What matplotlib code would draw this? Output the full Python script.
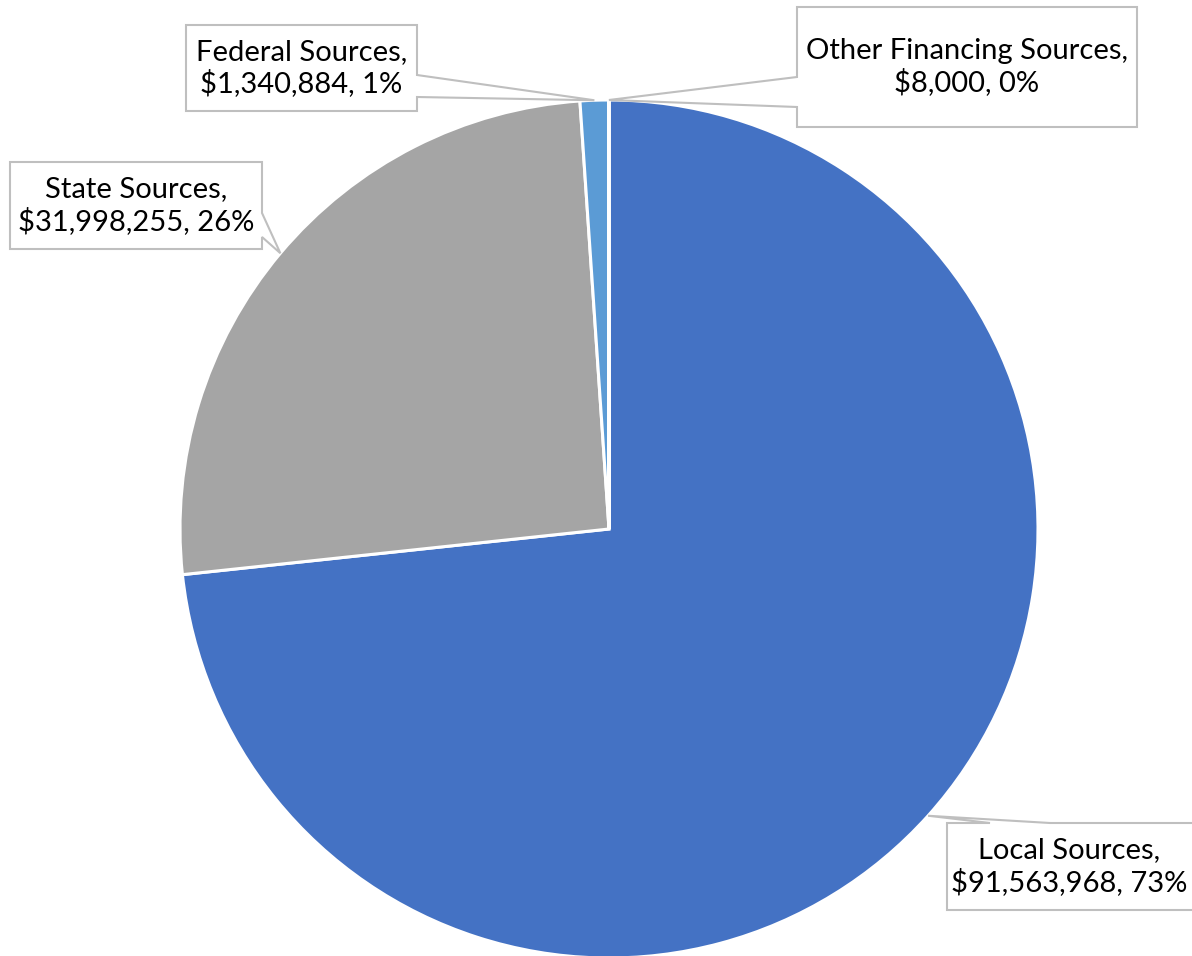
import numpy as np
import matplotlib
matplotlib.use("Agg")
import matplotlib.pyplot as plt
from matplotlib.patches import Polygon

plt.rcParams['font.family'] = ['Lato', 'DejaVu Sans']

# revenue by source
sources = ['Local Sources', 'State Sources', 'Federal Sources', 'Other Financing Sources']
amounts = [91563968, 31998255, 1340884, 8000]
colors = ['#4472C4', '#A5A5A5', '#5B9BD5', '#ED7D31']

W, H = 1192, 956
cx, cy, r = 609, H - 529, 429

# label boxes in pixel coords from the top-left: (x0, y0, x1, y1), side, wedge base
boxes = {
    'Local Sources': ((947, 823, 1196, 910), 'top', (990, 1050)),
    'State Sources': ((10, 162, 262, 249), 'right', (213, 237)),
    'Federal Sources': ((186, 25, 417, 111), 'right', (75, 97)),
    'Other Financing Sources': ((797, 7, 1137, 127), 'left', (77, 107)),
}


def callout_poly(box, side, base, tip):
    x0, y0, x1, y1 = box
    b0, b1 = base
    if side == 'right':
        pts = [(x0, y0), (x1, y0), (x1, b0), tip, (x1, b1), (x1, y1), (x0, y1)]
    elif side == 'left':
        pts = [(x0, y0), (x1, y0), (x1, y1), (x0, y1), (x0, b1), tip, (x0, b0)]
    else:  # top
        pts = [(x0, y0), (b0, y0), tip, (b1, y0), (x1, y0), (x1, y1), (x0, y1)]
    return [(x, H - y) for x, y in pts]


fig = plt.figure(figsize=(W / 100, H / 100), dpi=100)
ax = fig.add_axes([0, 0, 1, 1])

wedges, _ = ax.pie(amounts, colors=colors, startangle=90, counterclock=False,
                   center=(cx, cy), radius=r, frame=True,
                   wedgeprops=dict(edgecolor='white', linewidth=2.2))
ax.set_xlim(0, W)
ax.set_ylim(0, H)
ax.set_aspect('equal')
ax.axis('off')

total = sum(amounts)
for name, amt, w in zip(sources, amounts, wedges):
    # callout tip sits on the rim at the middle of the slice
    ang = np.deg2rad((w.theta1 + w.theta2) / 2)
    tip_x = cx + r * np.cos(ang)
    tip_y = H - (cy + r * np.sin(ang))
    box, side, base = boxes[name]
    poly = Polygon(callout_poly(box, side, base, (tip_x, tip_y)), closed=True,
                   facecolor='white', edgecolor='#BFBFBF', linewidth=1.5, zorder=3)
    ax.add_patch(poly)
    pct = amt / total * 100
    label = f"{name},\n${amt:,.0f}, {pct:.0f}%"
    x0, y0, x1, y1 = box
    tx = (x0 + min(x1, W)) / 2
    ax.text(tx, H - (y0 + y1) / 2, label, ha='center', va='center',
            fontsize=21, color='black', linespacing=1.2, zorder=4)

fig.savefig('out.png', dpi=100)
